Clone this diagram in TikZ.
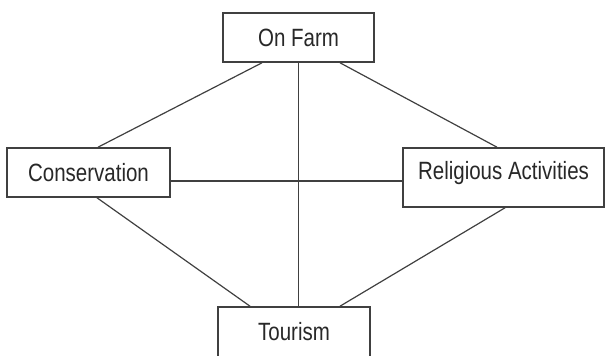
\documentclass[tikz,border=0pt]{standalone}
\usepackage{fontspec}
\newfontfamily\boxfont{Liberation Sans}[FakeStretch=0.82]
\definecolor{edgegray}{RGB}{64,64,64}
\definecolor{textgray}{RGB}{40,40,40}
\tikzset{
  activity/.style={draw=edgegray, line width=1.6pt, fill=white, inner sep=0pt,
    font=\boxfont\fontsize{25}{28}\selectfont, text=textgray},
  link/.style={draw=edgegray, line width=1.2pt},
}
\begin{document}
\begin{tikzpicture}[x=1pt,y=-1pt]
			\useasboundingbox (0,0) rectangle (608,356);
			
			%Shape: Rectangle [On Farm]
			\node [activity, minimum width=151, minimum height=49] (farm) at (298.5,37.5) {On Farm};
			%Shape: Rectangle [Conservation]
			\node [activity, minimum width=163, minimum height=49] (cons) at (88.5,172.5) {Conservation};
			%Shape: Rectangle [Religious Activities]
			\node [activity, minimum width=201, minimum height=59, text depth=15pt] (relig) at (503.5,177.5) {Religious Activities};
			%Shape: Rectangle [Tourism]
			\node [activity, minimum width=152, minimum height=56, text depth=8pt] (tour) at (294,335) {Tourism};
			
			%Straight Lines
			\draw [link] ([xshift=-36.5pt]farm.south) -- ([xshift=9.5pt]cons.north) ;
			%Straight Lines
			\draw [link] (farm.south) -- (farm.south |- tour.north) ;
			%Straight Lines
			\draw [link] ([xshift=41.5pt]farm.south) -- ([xshift=-6.5pt]relig.north) ;
			%Straight Lines
			\draw [link] ([yshift=-8.5pt]cons.east) -- ([yshift=-8.5pt]cons.east -| relig.west) ;
			%Straight Lines
			\draw [link] ([xshift=8.5pt]cons.south) -- ([xshift=-44pt]tour.north) ;
			%Straight Lines
			\draw [link] ([xshift=1.5pt]relig.south) -- ([xshift=46pt]tour.north) ;
			
\end{tikzpicture}
\end{document}
